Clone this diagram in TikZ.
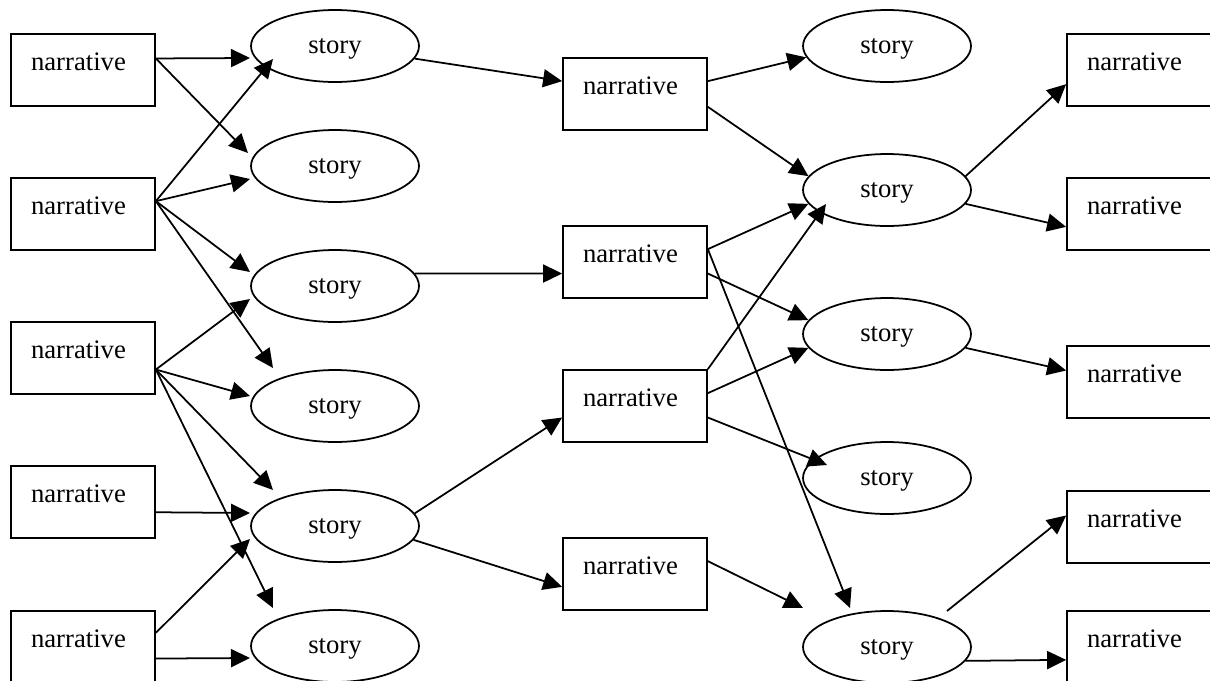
\documentclass[tikz,border=0pt]{standalone}
\usepackage{fontspec}
\setmainfont{Liberation Serif}
\usetikzlibrary{calc}
\usetikzlibrary{arrows.meta}
\usetikzlibrary{shapes.geometric}

\begin{document}
\begin{tikzpicture}[x=0.02cm,y=-0.02cm,line width=1pt,font=\fontsize{15.2}{18}\selectfont,
	narr/.style={draw,rectangle,minimum width=2.88cm,minimum height=1.44cm,inner sep=0pt,text width=2.08cm,align=left,text height=0.34cm,text depth=0.32cm},
	stor/.style={draw,ellipse,minimum width=3.36cm,minimum height=1.44cm,inner sep=0pt,text height=0.4cm,text depth=0.1cm},
	arr/.style={-{Triangle[length=0.38cm,width=0.36cm]}}]
\useasboundingbox (0,0) rectangle (1210,680);
\clip (0,0) rectangle (1210,680);
	% first column
	\node[narr] (b1) at (83,70) {narrative};
	\node[narr] (b2) at (83,214) {narrative};
	\node[narr] (b3) at (83,358) {narrative};
	\node[narr] (b4) at (83,502) {narrative};
	\node[narr] (b5) at (83,647) {narrative};
	\node[stor] (s1) at (335,46) {story};
	\node[stor] (s2) at (335,166) {story};
	\node[stor] (s3) at (335,286) {story};
	\node[stor] (s4) at (335,406) {story};
	\node[stor] (s5) at (335,526) {story};
	\node[stor] (s6) at (335,646) {story};
	% middle
	\node[narr] (c1) at (635,94) {narrative};
	\node[narr] (c2) at (635,262) {narrative};
	\node[narr] (c3) at (635,406) {narrative};
	\node[narr] (c4) at (635,574) {narrative};
	\node[stor] (t1) at (887,46) {story};
	\node[stor] (t2) at (887,190) {story};
	\node[stor] (t3) at (887,334) {story};
	\node[stor] (t4) at (887,478) {story};
	\node[stor] (t5) at (887,647) {story};
	% last column
	\node[narr] (d1) at (1139,70) {narrative};
	\node[narr] (d2) at (1139,214) {narrative};
	\node[narr] (d3) at (1139,382) {narrative};
	\node[narr] (d4) at (1139,527) {narrative};
	\node[narr] (d5) at (1139,647) {narrative};

	\draw[arr] (b1.9) -- ($(s1)+(-85,12)$);
	\draw[arr] (b1.9) -- ($(s2)+(-87,-13)$);
	\draw[arr] (b2.10) -- ($(s1)+(-62,13)$);
	\draw[arr] (b2.10) -- ($(s2)+(-85,13)$);
	\draw[arr] (b2.10) -- ($(s3)+(-85,-14)$);
	\draw[arr] (b2.10) -- ($(s4)+(-62,-38)$);
	\draw[arr] (b3.351) -- ($(s3)+(-85,13)$);
	\draw[arr] (b3.351) -- ($(s4)+(-85,-10)$);
	\draw[arr] (b3.351) -- ($(s5)+(-62,-36)$);
	\draw[arr] (b3.351) -- ($(s6)+(-62,-38)$);
	\draw[arr] (b4.352) -- ($(s5)+(-85,-13)$);
	\draw[arr] (b5.11) -- ($(s5)+(-85,13)$);
	\draw[arr] (b5.351) -- ($(s6)+(-85,12)$);

	\draw[arr] (s1.351) -- (c1.170);
	\draw[arr] (s3.9) -- (c2.189);
	\draw[arr] (s5.9) -- (c3.189);
	\draw[arr] (s5.350) -- (c4.190);

	\draw[arr] (c1.10) -- (t1.188);
	\draw[arr] (c1.350) -- (t2.170);
	\draw[arr] (c2.10) -- (t2.190);
	\draw[arr] (c3.north east) -- ($(t2)+(-61,14)$);
	\draw[arr] (c2.351) -- (t3.170);
	\draw[arr] (c3.10) -- (t3.190);
	\draw[arr] (c3.351) -- ($(t4)+(-60,-13)$);
	\draw[arr] (c2.10) -- ($(t5)+(-37,-39)$);
	\draw[arr] (c4.10) -- ($(t5)+(-84,-39)$);

	\draw[arr] (t2.10) -- (d1.191);
	\draw[arr] (t2.350) -- (d2.190);
	\draw[arr] (t3.350) -- (d3.171);
	\draw[arr] ($(t5)+(60,-36)$) -- (d4.171);
	\draw[arr] (t5.350) -- (d5.190);
\end{tikzpicture}
\end{document}
